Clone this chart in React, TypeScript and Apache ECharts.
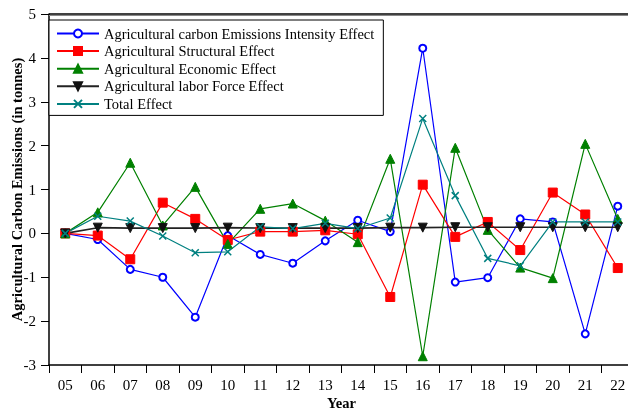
import React, { useEffect, useRef } from "react";
import * as echarts from "echarts";

const years = ["05", "06", "07", "08", "09", "10", "11", "12", "13", "14", "15", "16", "17", "18", "19", "20", "21", "22"];
const intensityEffect = [0, -0.14, -0.82, -1.0, -1.91, -0.05, -0.48, -0.68, -0.17, 0.30, 0.04, 4.22, -1.11, -1.01, 0.33, 0.26, -2.29, 0.62];
const structuralEffect = [0, -0.05, -0.59, 0.70, 0.33, -0.15, 0.04, 0.04, 0.07, -0.02, -1.45, 1.11, -0.08, 0.26, -0.38, 0.93, 0.43, -0.79];
const economicEffect = [0, 0.48, 1.61, 0.18, 1.06, -0.24, 0.56, 0.68, 0.29, -0.20, 1.70, -2.80, 1.95, 0.08, -0.78, -1.02, 2.04, 0.33];
const laborEffect = [0, 0.13, 0.12, 0.12, 0.12, 0.13, 0.12, 0.12, 0.12, 0.12, 0.13, 0.13, 0.14, 0.14, 0.14, 0.14, 0.14, 0.14];
const totalEffect = [0, 0.39, 0.28, -0.06, -0.44, -0.42, 0.15, 0.11, 0.23, 0.11, 0.35, 2.62, 0.86, -0.57, -0.74, 0.26, 0.26, 0.26];

const seriesNames = [
  "Agricultural carbon Emissions Intensity Effect",
  "Agricultural Structural Effect",
  "Agricultural Economic Effect",
  "Agricultural labor Force Effect",
  "Total Effect",
];

const FONT = "'Liberation Serif', 'Times New Roman', serif";

export default function App() {
  const ref = useRef<HTMLDivElement>(null);
  useEffect(() => {
    if (!ref.current) return;
    const chart = echarts.init(ref.current, undefined, { renderer: "svg" });
    const mk = (name: string, data: number[], color: string, symbol: string, size: number, extra: any = {}) => ({
      name,
      type: "line",
      data,
      symbol,
      symbolSize: size,
      showSymbol: true,
      lineStyle: { color, width: 1.2 },
      itemStyle: { color, borderColor: color, borderWidth: 1 },
      emphasis: { disabled: true },
      ...extra,
    });
    chart.setOption({
      animation: false,
      textStyle: { fontFamily: FONT },
      grid: { left: 49, top: 14, right: -6, bottom: 45, containLabel: false, outerBoundsMode: "none" },
      legend: {
        orient: "vertical",
        left: 49,
        top: 20,
        padding: [6, 9, 4, 7],
        itemWidth: 42,
        itemHeight: 10,
        itemGap: 2.6,
        backgroundColor: "#fff",
        borderColor: "#000",
        borderWidth: 1,
        borderRadius: 0,
        textStyle: { fontFamily: FONT, fontSize: 14.5, lineHeight: 14, color: "#000", padding: [0, 0, 0, 0] },
        data: seriesNames,
      },
      xAxis: {
        type: "category",
        data: years,
        boundaryGap: true,
        axisLine: { onZero: false, lineStyle: { color: "#000", width: 1.5 } },
        axisTick: { show: true, length: 8, lineStyle: { color: "#000", width: 1 } },
        axisLabel: { color: "#000", fontSize: 15, fontFamily: FONT, margin: 12 },
        splitLine: { show: false },
        name: "Year",
        nameLocation: "middle",
        nameGap: 30,
        nameMoveOverlap: false,
        nameTextStyle: { fontFamily: FONT, fontSize: 14.5, fontWeight: "bold", color: "#000" },
      },
      yAxis: {
        type: "value",
        min: -3,
        max: 5,
        interval: 1,
        axisLine: { show: true, onZero: false, lineStyle: { color: "#000", width: 1.5 } },
        axisTick: { show: true, length: 8, lineStyle: { color: "#000", width: 1 } },
        axisLabel: { color: "#000", fontSize: 15, fontFamily: FONT, margin: 13 },
        splitLine: { show: false },
        name: "Agricultural Carbon Emissions (in tonnes)",
        nameLocation: "middle",
        nameGap: 25,
        nameMoveOverlap: false,
        nameTextStyle: { fontFamily: FONT, fontSize: 14.5, fontWeight: "bold", color: "#000" },
      },
      graphic: [
        { type: "line", shape: { x1: 49, y1: 15.5, x2: 628, y2: 15.5 }, style: { stroke: "#888", lineWidth: 1 }, z: 10 },
        { type: "line", shape: { x1: 49, y1: 14, x2: 628, y2: 14 }, style: { stroke: "#000", lineWidth: 1.5 }, z: 10 },
      ],
      series: [
        mk(seriesNames[0], intensityEffect, "#0000ff", "emptyCircle", 7, { itemStyle: { color: "#0000ff", borderColor: "#0000ff", borderWidth: 1.2 } }),
        mk(seriesNames[1], structuralEffect, "#ff0000", "rect", 9),
        mk(seriesNames[2], economicEffect, "#008000", "triangle", 9),
        mk(seriesNames[3], laborEffect, "#111111", "triangle", 9, { symbolRotate: 180, lineStyle: { color: "#222", width: 1.6 } }),
        mk(seriesNames[4], totalEffect, "#008080", "path://M0,0L10,10M10,0L0,10", 7, { itemStyle: { color: "#008080", borderColor: "#008080", borderWidth: 1.5 } }),
      ],
    });
    return () => chart.dispose();
  }, []);
  return <div ref={ref} style={{ position: "fixed", left: 0, top: 0, width: 628, height: 410 }} />;
}
